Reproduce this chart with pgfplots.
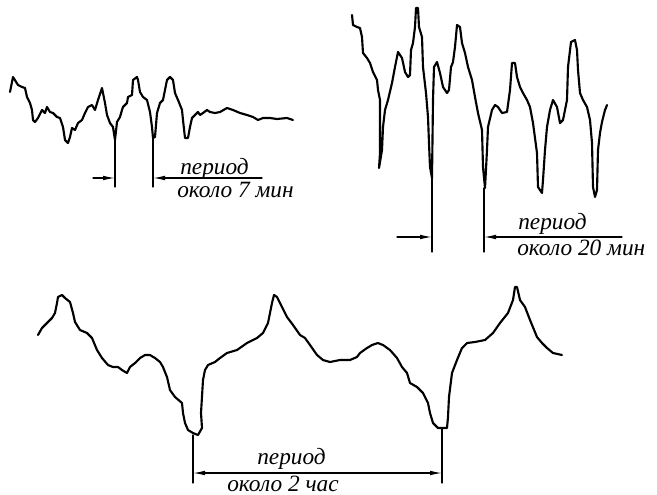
\documentclass[border=0pt]{standalone}
\usepackage{pgfplots}
\pgfplotsset{compat=1.18}
\usepackage{fontspec}
\setmainfont{Liberation Serif}
\usetikzlibrary{arrows.meta}

% traces, in pixel coordinates of the figure (y downwards)
\pgfplotstableread{
x y
10 92
13 77
18 85
22 87
25 88
27 97
30 103
32 110
33 120
35 122
38 118
42 110
45 113
47 107
50 112
53 113
57 117
60 118
63 127
65 140
68 143
70 137
72 128
75 130
78 123
82 120
85 113
88 107
92 105
95 110
98 100
102 88
103 93
105 103
107 115
110 123
113 127
115 140
117 122
120 117
122 110
123 107
127 103
128 97
132 95
133 80
137 77
138 80
140 92
143 97
147 100
150 112
152 127
153 138
155 137
157 113
160 103
163 100
165 90
167 80
170 77
173 80
175 93
178 100
182 110
183 120
185 138
188 138
190 127
192 118
195 115
198 112
200 115
203 113
207 110
210 112
215 113
220 112
227 108
233 110
240 113
247 115
253 117
258 120
263 118
270 118
277 119
287 118
293 120
}\traceA

\pgfplotstableread{
x y
352 15
353 25
357 27
360 28
362 37
363 53
367 58
370 63
373 72
377 80
378 90
380 100
380 153
379 168
382 150
383 127
385 110
388 100
392 83
395 67
398 52
402 58
405 72
408 77
410 75
411 50
413 43
415 27
416 8
418 8
419 27
422 37
423 67
426 93
428 117
429 143
430 167
432 178
433 100
434 67
437 62
440 73
443 87
447 93
449 90
451 67
453 62
455 47
457 25
460 27
462 43
465 53
468 67
472 80
475 97
478 113
482 130
483 167
485 188
487 150
488 127
492 110
495 105
498 107
502 113
507 112
510 90
512 63
515 63
517 77
520 87
523 93
527 100
530 107
533 123
537 153
538 187
542 193
543 180
545 150
547 127
550 110
553 100
557 107
560 123
563 120
567 100
568 67
571 42
575 40
577 50
578 70
580 93
583 100
587 107
590 120
592 143
593 187
595 197
597 190
598 150
600 133
602 122
605 110
607 105
}\traceB

\pgfplotstableread{
x y
38 335
42 328
47 323
52 318
55 313
57 303
58 297
62 295
65 298
70 302
73 313
75 322
80 330
87 333
92 338
97 350
102 358
108 365
113 367
118 367
122 370
127 373
130 367
135 363
140 358
145 355
150 355
155 358
160 362
163 367
167 377
170 390
175 397
182 403
183 413
185 423
188 430
193 433
198 435
202 428
201 413
203 380
205 370
208 365
215 362
220 358
227 353
237 350
247 343
257 338
263 333
268 323
272 303
274 295
277 297
282 307
287 317
293 325
300 335
305 338
310 345
317 355
323 360
330 362
340 360
350 360
357 357
360 353
367 348
372 345
378 343
383 345
390 350
397 358
402 367
407 373
410 383
417 387
423 393
428 403
430 413
433 423
438 428
447 428
448 417
449 397
452 373
457 360
462 348
467 343
475 342
485 340
493 333
500 323
508 313
513 300
515 287
517 287
520 300
525 307
530 320
537 337
542 343
547 348
553 353
562 355
}\traceC

\begin{document}
\begin{tikzpicture}
\begin{axis}[
    scale only axis,
    width=492.75pt, height=370.5pt,
    xmin=0, xmax=657, ymin=0, ymax=494,
    y dir=reverse,
    hide axis, clip=false,
    every axis plot/.append style={black, line join=round, line cap=round},
]
\path (axis cs:0,0) rectangle (axis cs:657,494);

\addplot[line width=1.6pt] table {\traceA};
\addplot[line width=1.6pt] table {\traceB};
\addplot[line width=1.6pt] table {\traceC};

% period markers, trace A
\addplot[line width=0.9pt] coordinates {(115,140) (115,187)};
\addplot[line width=0.9pt] coordinates {(153,138) (153,187)};
\addplot[line width=0.9pt, -{Latex[length=9pt,width=3.5pt]}] coordinates {(93,178) (115,178)};
\addplot[line width=0.9pt, -{Latex[length=9pt,width=3.5pt]}] coordinates {(262,178) (153,178)};
\node[font=\fontsize{17.5}{21}\selectfont\itshape, anchor=base west, inner sep=0pt] at (axis cs:180,174) {период};
\node[font=\fontsize{17.5}{21}\selectfont\itshape, anchor=base west, inner sep=0pt] at (axis cs:177,197) {около 7 мин};

% period markers, trace B
\addplot[line width=0.9pt] coordinates {(432,178) (432,252)};
\addplot[line width=0.9pt] coordinates {(484,188) (484,252)};
\addplot[line width=0.9pt, -{Latex[length=9pt,width=3.5pt]}] coordinates {(397,237) (432,237)};
\addplot[line width=0.9pt, -{Latex[length=9pt,width=3.5pt]}] coordinates {(622,237) (484,237)};
\node[font=\fontsize{17.5}{21}\selectfont\itshape, anchor=base west, inner sep=0pt] at (axis cs:518,229) {период};
\node[font=\fontsize{17.5}{21}\selectfont\itshape, anchor=base west, inner sep=0pt] at (axis cs:517,255) {около 20 мин};

% period markers, trace C
\addplot[line width=0.9pt] coordinates {(193,435) (193,483)};
\addplot[line width=0.9pt] coordinates {(442,428) (442,483)};
\addplot[line width=0.9pt, {Latex[length=9pt,width=3.5pt]}-{Latex[length=9pt,width=3.5pt]}] coordinates {(193,473) (442,473)};
\node[font=\fontsize{17.5}{21}\selectfont\itshape, anchor=base west, inner sep=0pt] at (axis cs:257,464) {период};
\node[font=\fontsize{17.5}{21}\selectfont\itshape, anchor=base west, inner sep=0pt] at (axis cs:227,491) {около 2 час};
\end{axis}
\end{tikzpicture}
\end{document}
